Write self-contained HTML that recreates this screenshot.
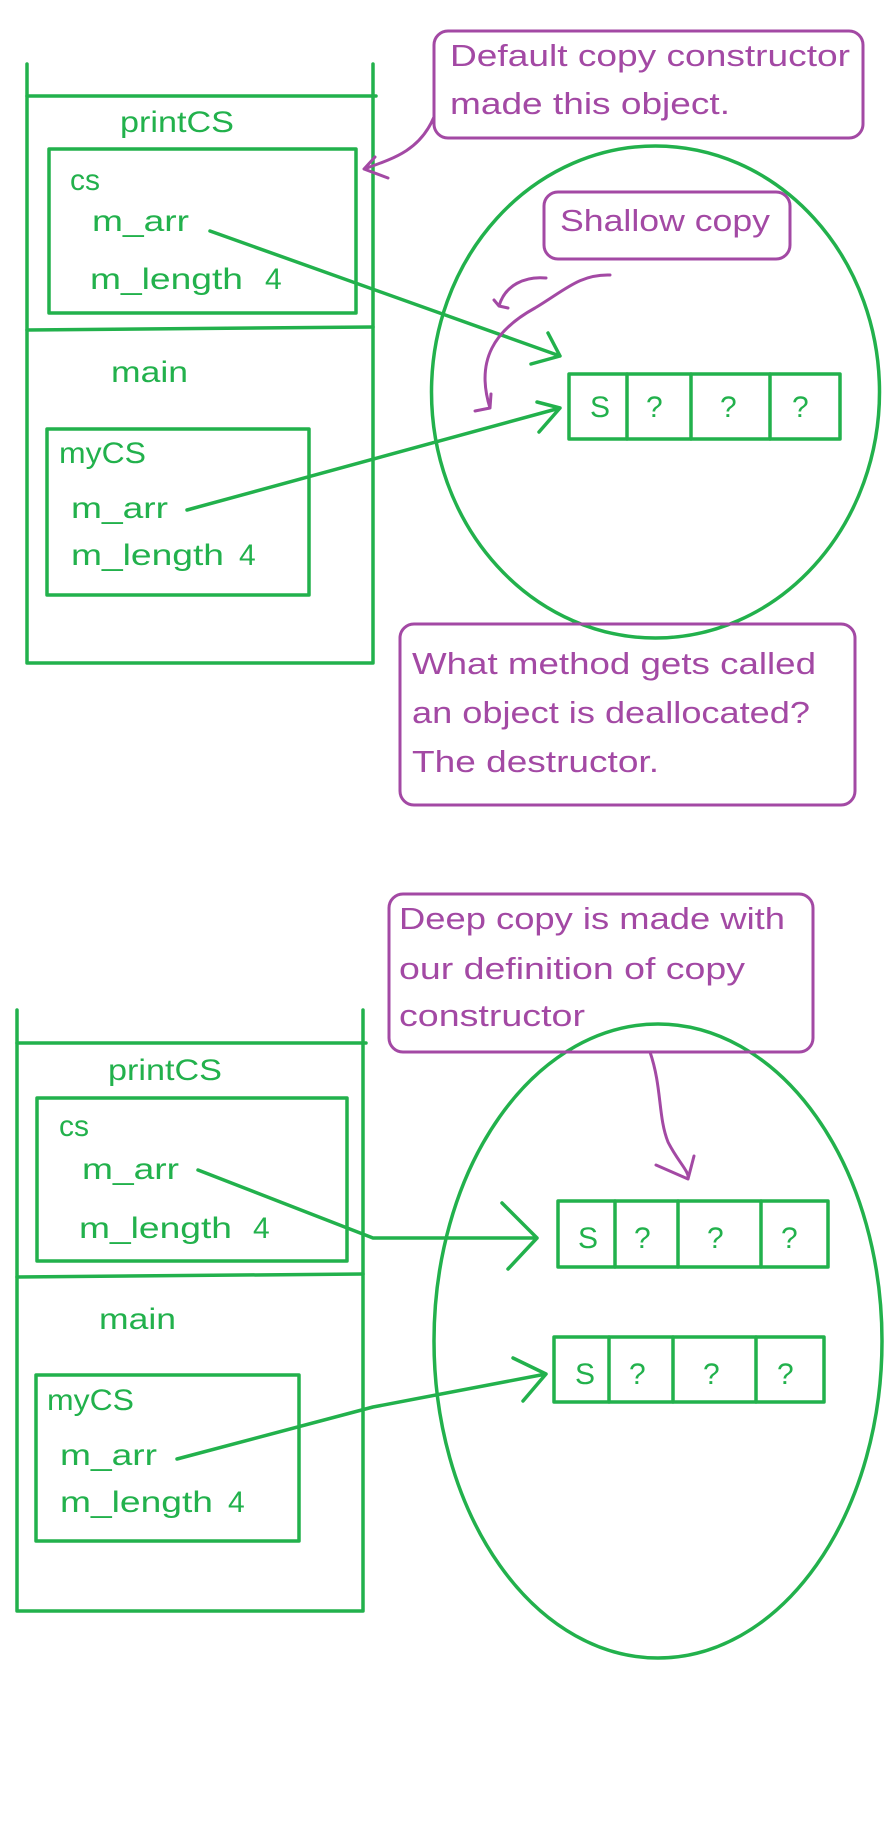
<!DOCTYPE html>
<html><head><meta charset="utf-8"><style>html,body{margin:0;padding:0;background:#fff}svg{display:block}</style></head>
<body>
<svg width="896" height="1840" viewBox="0 0 896 1840" xmlns="http://www.w3.org/2000/svg">
<g fill="none" stroke="#22b14c" stroke-width="3.5" stroke-linejoin="round" stroke-linecap="round">
<path d="M27 64 V663 H373 V64"/>
<path d="M27 96 H376"/>
<path d="M27 330 L373 327"/>
<rect x="49" y="149" width="307" height="164"/>
<rect x="47" y="429" width="262" height="166"/>
<ellipse cx="655.5" cy="392" rx="224" ry="246"/>
<rect x="569" y="374" width="271" height="65"/>
<path d="M627 374 V439 M691 374 V439 M770 374 V439"/>
<path d="M210 231 L560 356 M548 333 L560 356 L531 364"/>
<path d="M187 510 L560 408 M537 402 L560 408 L539 432"/>
</g>
<g fill="none" stroke="#a349a4" stroke-width="3" stroke-linecap="round" stroke-linejoin="round">
<rect x="434" y="31" width="429" height="107" rx="14"/>
<rect x="544" y="192" width="246" height="67" rx="14"/>
<rect x="400" y="624" width="455" height="181" rx="14"/>
<path d="M434 117 C420 150 395 158 364 169 M375 157 L364 169 L388 178"/>
<path d="M546 278 C525 276 505 285 499 306 M494 300 L499 306 L508 308"/>
<path d="M610 275 C580 274 565 290 535 308 C495 330 475 360 490 408 M475 411 L490 408 L491 394"/>
</g>
<g fill="#22b14c" font-family="Liberation Sans, sans-serif" font-size="30">
<text x="120" y="132" textLength="114" lengthAdjust="spacingAndGlyphs">printCS</text>
<text x="70" y="190" textLength="30" lengthAdjust="spacingAndGlyphs">cs</text>
<text x="92" y="231" textLength="97" lengthAdjust="spacingAndGlyphs">m_arr</text>
<text x="90" y="289" textLength="153" lengthAdjust="spacingAndGlyphs">m_length</text>
<text x="265" y="289">4</text>
<text x="111" y="382" textLength="77" lengthAdjust="spacingAndGlyphs">main</text>
<text x="59" y="463" textLength="87" lengthAdjust="spacingAndGlyphs">myCS</text>
<text x="71" y="518" textLength="97" lengthAdjust="spacingAndGlyphs">m_arr</text>
<text x="71" y="565" textLength="153" lengthAdjust="spacingAndGlyphs">m_length</text>
<text x="239" y="565">4</text>
<text x="590" y="417">S</text><text x="646" y="417">?</text><text x="720" y="417">?</text><text x="792" y="417">?</text>
</g>
<g fill="#a349a4" font-family="Liberation Sans, sans-serif" font-size="31">
<text x="450" y="66" textLength="400" lengthAdjust="spacingAndGlyphs">Default copy constructor</text>
<text x="450" y="114" textLength="280" lengthAdjust="spacingAndGlyphs">made this object.</text>
<text x="560" y="231" textLength="210" lengthAdjust="spacingAndGlyphs">Shallow copy</text>
<text x="412" y="674" textLength="404" lengthAdjust="spacingAndGlyphs">What method gets called</text>
<text x="412" y="723" textLength="398" lengthAdjust="spacingAndGlyphs">an object is deallocated?</text>
<text x="412" y="772" textLength="247" lengthAdjust="spacingAndGlyphs">The destructor.</text>
</g>
<g transform="translate(0,7)">
<g fill="none" stroke="#22b14c" stroke-width="3.5" stroke-linejoin="round" stroke-linecap="round">
<path d="M17 1003 V1604 H363 V1003"/>
<path d="M17 1036 H366"/>
<path d="M17 1270 L363 1267"/>
<rect x="37" y="1091" width="310" height="163"/>
<rect x="36" y="1368" width="263" height="166"/>
<ellipse cx="658" cy="1334" rx="224" ry="317"/>
<rect x="558" y="1194" width="270" height="66"/>
<path d="M615 1194 V1260 M678 1194 V1260 M761 1194 V1260"/>
<rect x="554" y="1330" width="270" height="65"/>
<path d="M609 1330 V1395 M673 1330 V1395 M756 1330 V1395"/>
<path d="M198 1163 L373 1231 H537 M502 1196 L537 1231 L508 1262"/>
<path d="M177 1452 L373 1400 L546 1367 M513 1351 L546 1367 L523 1394"/>
</g>
<g fill="none" stroke="#a349a4" stroke-width="3" stroke-linecap="round" stroke-linejoin="round">
<rect x="389" y="887" width="424" height="158" rx="14"/>
<path d="M650 1045 C662 1080 658 1110 668 1135 C678 1155 690 1165 688 1172 M656 1158 L688 1172 L694 1149"/>
</g>
<g fill="#22b14c" font-family="Liberation Sans, sans-serif" font-size="30">
<text x="108" y="1073" textLength="114" lengthAdjust="spacingAndGlyphs">printCS</text>
<text x="59" y="1129" textLength="30" lengthAdjust="spacingAndGlyphs">cs</text>
<text x="82" y="1172" textLength="97" lengthAdjust="spacingAndGlyphs">m_arr</text>
<text x="79" y="1231" textLength="153" lengthAdjust="spacingAndGlyphs">m_length</text>
<text x="253" y="1231">4</text>
<text x="99" y="1322" textLength="77" lengthAdjust="spacingAndGlyphs">main</text>
<text x="47" y="1403" textLength="87" lengthAdjust="spacingAndGlyphs">myCS</text>
<text x="60" y="1458" textLength="97" lengthAdjust="spacingAndGlyphs">m_arr</text>
<text x="60" y="1505" textLength="153" lengthAdjust="spacingAndGlyphs">m_length</text>
<text x="228" y="1505">4</text>
<text x="578" y="1241">S</text><text x="634" y="1241">?</text><text x="707" y="1241">?</text><text x="781" y="1241">?</text>
<text x="575" y="1377">S</text><text x="629" y="1377">?</text><text x="703" y="1377">?</text><text x="777" y="1377">?</text>
</g>
<g fill="#a349a4" font-family="Liberation Sans, sans-serif" font-size="31">
<text x="399" y="922" textLength="386" lengthAdjust="spacingAndGlyphs">Deep copy is made with</text>
<text x="399" y="972" textLength="346" lengthAdjust="spacingAndGlyphs">our definition of copy</text>
<text x="399" y="1019" textLength="186" lengthAdjust="spacingAndGlyphs">constructor</text>
</g>
</g>
</svg>
</body></html>
